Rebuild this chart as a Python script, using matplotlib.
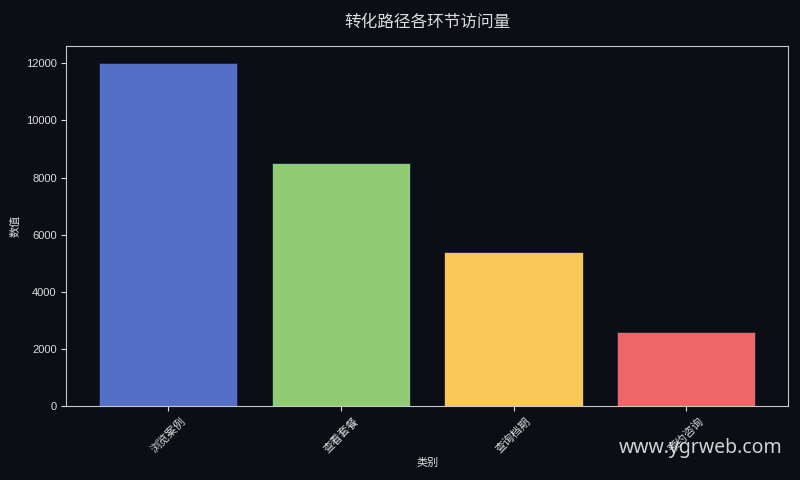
import matplotlib
matplotlib.use("Agg")
import matplotlib.pyplot as plt

categories = ["浏览案例", "查看套餐", "查询档期", "预约咨询"]
values = [12000, 8500, 5400, 2600]
colors = ["#5470c6", "#91cc75", "#fac858", "#ee6666"]

BG = "#0b0e14"
FG = "#dddddd"

plt.rcParams["font.family"] = ["Liberation Sans", "Noto Sans CJK SC", "DejaVu Sans"]

fig, ax = plt.subplots(figsize=(8, 4.8), dpi=100)
fig.patch.set_facecolor(BG)
ax.set_facecolor(BG)

ax.bar(categories, values, color=colors, width=0.8, edgecolor="#1a2040", linewidth=0.6)

ax.set_title("转化路径各环节访问量", color=FG, fontsize=12, pad=14)
ax.set_xlabel("类别", color=FG, fontsize=8, labelpad=2)
ax.set_ylabel("数值", color=FG, fontsize=8)
ax.tick_params(colors=FG, labelsize=8)
plt.setp(ax.get_xticklabels(), rotation=45)
for s in ax.spines.values():
    s.set_color("#c8c8c8")

fig.subplots_adjust(left=0.083, right=0.985, top=0.904, bottom=0.154)
fig.text(0.876, 0.066, "www.ygrweb.com", color="#e8e8e8", fontsize=14,
         family="Noto Sans", ha="center", va="center", alpha=0.9)

fig.savefig("out.png", facecolor=BG)
